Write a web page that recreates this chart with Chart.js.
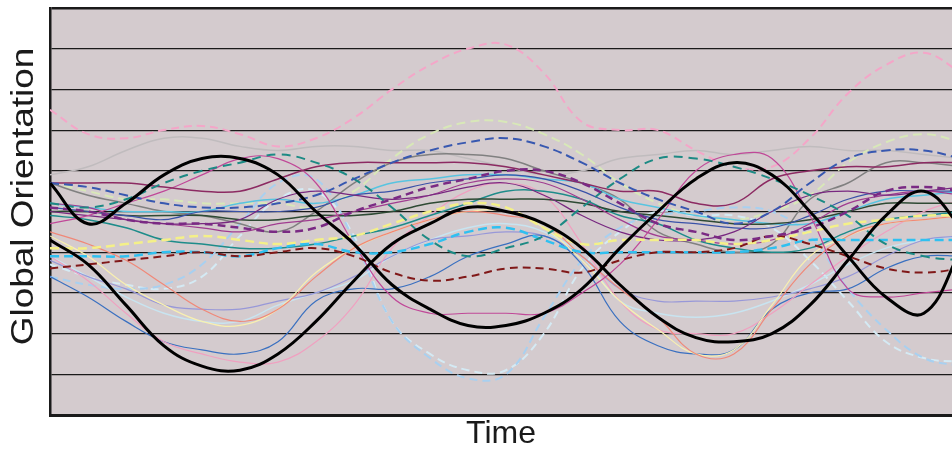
<!DOCTYPE html>
<html lang="en">
<head>
  <meta charset="UTF-8">
  <title>Global Orientation over Time</title>
  <script src="https://cdn.jsdelivr.net/npm/chart.js"></script>
  <style>
    html, body { margin: 0; padding: 0; background: #ffffff; overflow: hidden; }
    #wrap { width: 952px; height: 452px; position: relative; }
  </style>
</head>
<body>
  <div id="wrap"><canvas id="orientChart"></canvas></div>

  <script>
    // time steps (arbitrary units, no tick labels shown)
    const timeSteps = [0,1,2,3,4,5,6,7,8,9,10,11,12,13,14,15,16,17,18,19,20,21,22,23,24];

    // the two reference (thick black) curves
    const refA = [57,47,52,59,63,63,59,50,42,32,26,22,22,25,31,41,50,58,62,59,50,39,29,25,41];
    const refB = [43,37,27,17,12,11,15,23,33,42,47,51,50,47,41,32,24,19,18,20,27,38,49,55,46];

    // individual traces
    const pinkDash     = [75,69,68,70,71,69,66,68,73,80,86,90,91,84,72,70,70,65,61,61,68,79,86,89,84];
    const greyLight    = [59,61,65,68,68,66,65,66,66,65,65,63,61,59,60,63,64,65,64,65,66,65,65,64,63];
    const tealDash     = [52,51,53,57,60,62,64,62,58,51,43,39,41,44,51,58,63,63,61,58,54,49,42,39,38];
    const plum         = [57,57,57,56,55,55,58,61,62,62,62,62,61,59,57,55,55,52,52,58,60,61,61,62,62];
    const orchid       = [47,49,52,55,59,63,63,57,42,29,25,25,25,25,30,37,48,60,64,63,49,31,29,30,31];
    const blueDash     = [57,56,54,52,51,51,52,54,58,62,65,67,68,66,62,57,53,50,47,50,57,63,65,65,63];
    const mintDash     = [57,55,53,53,52,52,52,51,55,63,69,72,72,69,64,57,52,49,48,50,54,62,67,69,67];
    const cyan         = [52,51,50,50,50,52,53,52,54,57,58,59,59,58,57,53,51,49,48,47,47,50,53,54,55];
    const greyDark     = [57,54,52,50,49,47,45,50,57,62,64,64,63,60,57,53,45,42,40,42,53,57,62,62,61];
    const purpleDash   = [51,50,48,47,47,46,45,46,50,53,56,58,60,60,57,52,47,45,43,44,46,50,55,56,55];
    const navy         = [51,50,49,48,50,50,50,51,54,55,57,58,59,58,55,51,48,47,46,46,49,53,55,55,55];
    const forest       = [50,50,49,49,49,48,48,49,49,50,52,53,53,53,52,50,49,48,47,47,48,50,52,52,52];
    const teal         = [49,48,46,43,42,41,41,42,44,46,49,52,55,55,53,49,47,43,41,40,41,45,48,49,50];
    const yellowDash   = [41,41,42,43,44,43,42,43,44,47,50,52,51,46,42,43,43,43,42,43,45,47,48,49,49];
    const skyDash      = [39,39,39,40,40,39,41,42,40,40,42,45,46,43,40,40,40,40,40,41,43,43,43,43,43];
    const maroonDash   = [36,37,38,39,40,39,40,41,39,35,33,34,36,36,35,38,40,40,41,44,42,39,36,35,36];
    const salmon       = [45,42,38,32,26,23,26,34,41,45,48,50,49,47,39,31,24,15,15,26,37,44,47,48,49];
    const cream        = [44,39,32,27,23,22,26,35,41,45,48,50,50,46,38,28,21,15,16,27,39,44,47,48,49];
    const pink         = [39,33,25,18,15,13,13,18,27,41,49,55,57,54,42,28,21,20,20,25,32,39,45,50,53];
    const blue         = [34,29,23,18,16,15,18,28,31,31,34,39,42,44,37,23,17,15,16,26,30,31,36,39,39];
    const iceDashA     = [34,32,31,32,37,47,57,58,43,23,14,9,10,24,38,46,49,50,51,50,44,31,21,14,12];
    const iceDashB     = [37,34,32,31,34,44,53,55,44,23,15,11,11,20,36,45,50,49,49,46,38,28,18,14,13];
    const periwinkle   = [38,34,31,27,26,26,28,30,34,39,43,44,45,44,39,31,28,28,28,29,31,34,39,43,44];
    const paleBlue     = [39,34,29,25,23,23,27,30,33,39,43,46,47,45,39,28,25,24,25,28,32,37,41,43,44];
    const violet       = [50,49,48,47,47,48,53,55,54,53,54,56,57,54,49,45,43,43,45,50,54,55,54,55,56];
    const magenta      = [52,51,48,47,46,45,47,48,50,52,54,57,58,57,53,48,44,43,42,43,47,52,54,55,54];

    function series(values, color, width, dash) {
      return {
        data: values.map((v, i) => ({ x: timeSteps[i], y: v })),
        borderColor: color,
        borderWidth: width,
        borderDash: dash || [],
        pointRadius: 0,
        tension: 0.4,
        fill: false
      };
    }

    // first dataset is painted last, so the black curves go first
    const datasets = [
      series(refA, '#000000', 3),
      series(refB, '#000000', 3),
      series(purpleDash, '#7a2a84', 2.5, [8, 5]),
      series(blueDash, '#3858b0', 2, [9, 5]),
      series(tealDash, '#1c8a84', 2, [9, 6]),
      series(maroonDash, '#801818', 2, [8, 5]),
      series(skyDash, '#30c0f0', 2.5, [9, 5]),
      series(yellowDash, '#f4f088', 2.5, [9, 5]),
      series(plum, '#8c2a62', 1.5),
      series(orchid, '#c04898', 1.2),
      series(violet, '#782880', 1.2),
      series(magenta, '#a03c90', 1.2),
      series(navy, '#3a52a8', 1.2),
      series(forest, '#2e4a34', 1.5),
      series(teal, '#1e8c8a', 1.5),
      series(cyan, '#58c4e0', 1.5),
      series(greyDark, '#808080', 1.5),
      series(salmon, '#f08878', 1.2),
      series(cream, '#f8f0b0', 1.2),
      series(pink, '#f0a0c0', 1.2),
      series(blue, '#3a70c0', 1.2),
      series(periwinkle, '#9898d8', 1.2),
      series(paleBlue, '#c8e4f0', 1.5),
      series(iceDashA, '#a8d0f0', 2, [8, 5]),
      series(iceDashB, '#d4eaf4', 2, [8, 5]),
      series(mintDash, '#d8e8b8', 2, [9, 5]),
      series(pinkDash, '#f4a6c8', 2, [8, 5]),
      series(greyLight, '#c0bcbe', 1.5)
    ];

    // fill the plot area with the mauve background
    const plotBackground = {
      id: 'plotBackground',
      beforeDraw(chart) {
        const { ctx, chartArea: a } = chart;
        ctx.save();
        ctx.fillStyle = '#d4cbce';
        ctx.fillRect(a.left, a.top, a.right - a.left, a.bottom - a.top);
        ctx.restore();
      }
    };

    // y title drawn by hand: the original uses a tall, stretched face
    const yTitle = {
      id: 'yTitle',
      afterDraw(chart) {
        const { ctx, chartArea: a } = chart;
        ctx.save();
        ctx.translate(a.left - 26, (a.top + a.bottom) / 2 - 15);
        ctx.rotate(-Math.PI / 2);
        ctx.scale(1.19, 1);
        ctx.font = '31px "Liberation Sans", Arial, sans-serif';
        ctx.fillStyle = '#1a1a1a';
        ctx.textAlign = 'center';
        ctx.textBaseline = 'middle';
        ctx.fillText('Global Orientation', 0, 0);
        ctx.restore();
      }
    };

    const ctx = document.getElementById('orientChart').getContext('2d');
    new Chart(ctx, {
      type: 'line',
      data: { datasets: datasets },
      plugins: [plotBackground, yTitle],
      options: {
        responsive: true,
        maintainAspectRatio: false,
        animation: false,
        layout: { padding: { top: 8, right: 0, left: 0, bottom: 0 } },
        plugins: {
          legend: { display: false },
          tooltip: { enabled: false }
        },
        scales: {
          x: {
            type: 'linear',
            min: 0,
            max: 23.74,
            ticks: { display: false },
            grid: { display: false, drawTicks: false },
            border: { display: true, color: '#1a1a1a', width: 3 },
            title: {
              display: true,
              text: 'Time',
              color: '#1a1a1a',
              font: { family: 'Liberation Sans, Arial, sans-serif', size: 32 },
              padding: { top: 0, bottom: -1 }
            },
            afterFit: (s) => { s.height = 37; }
          },
          y: {
            min: 0,
            max: 100,
            ticks: { display: false, stepSize: 10 },
            grid: {
              color: '#1a1a1a',
              drawTicks: false,
              lineWidth: (c) => (c.tick && c.tick.value === 100 ? 2.5 : 1.2)
            },
            border: { display: true, color: '#1a1a1a', width: 2.5 },
            title: { display: false },
            afterFit: (s) => { s.width = 50; }
          }
        }
      }
    });
  </script>
</body>
</html>
